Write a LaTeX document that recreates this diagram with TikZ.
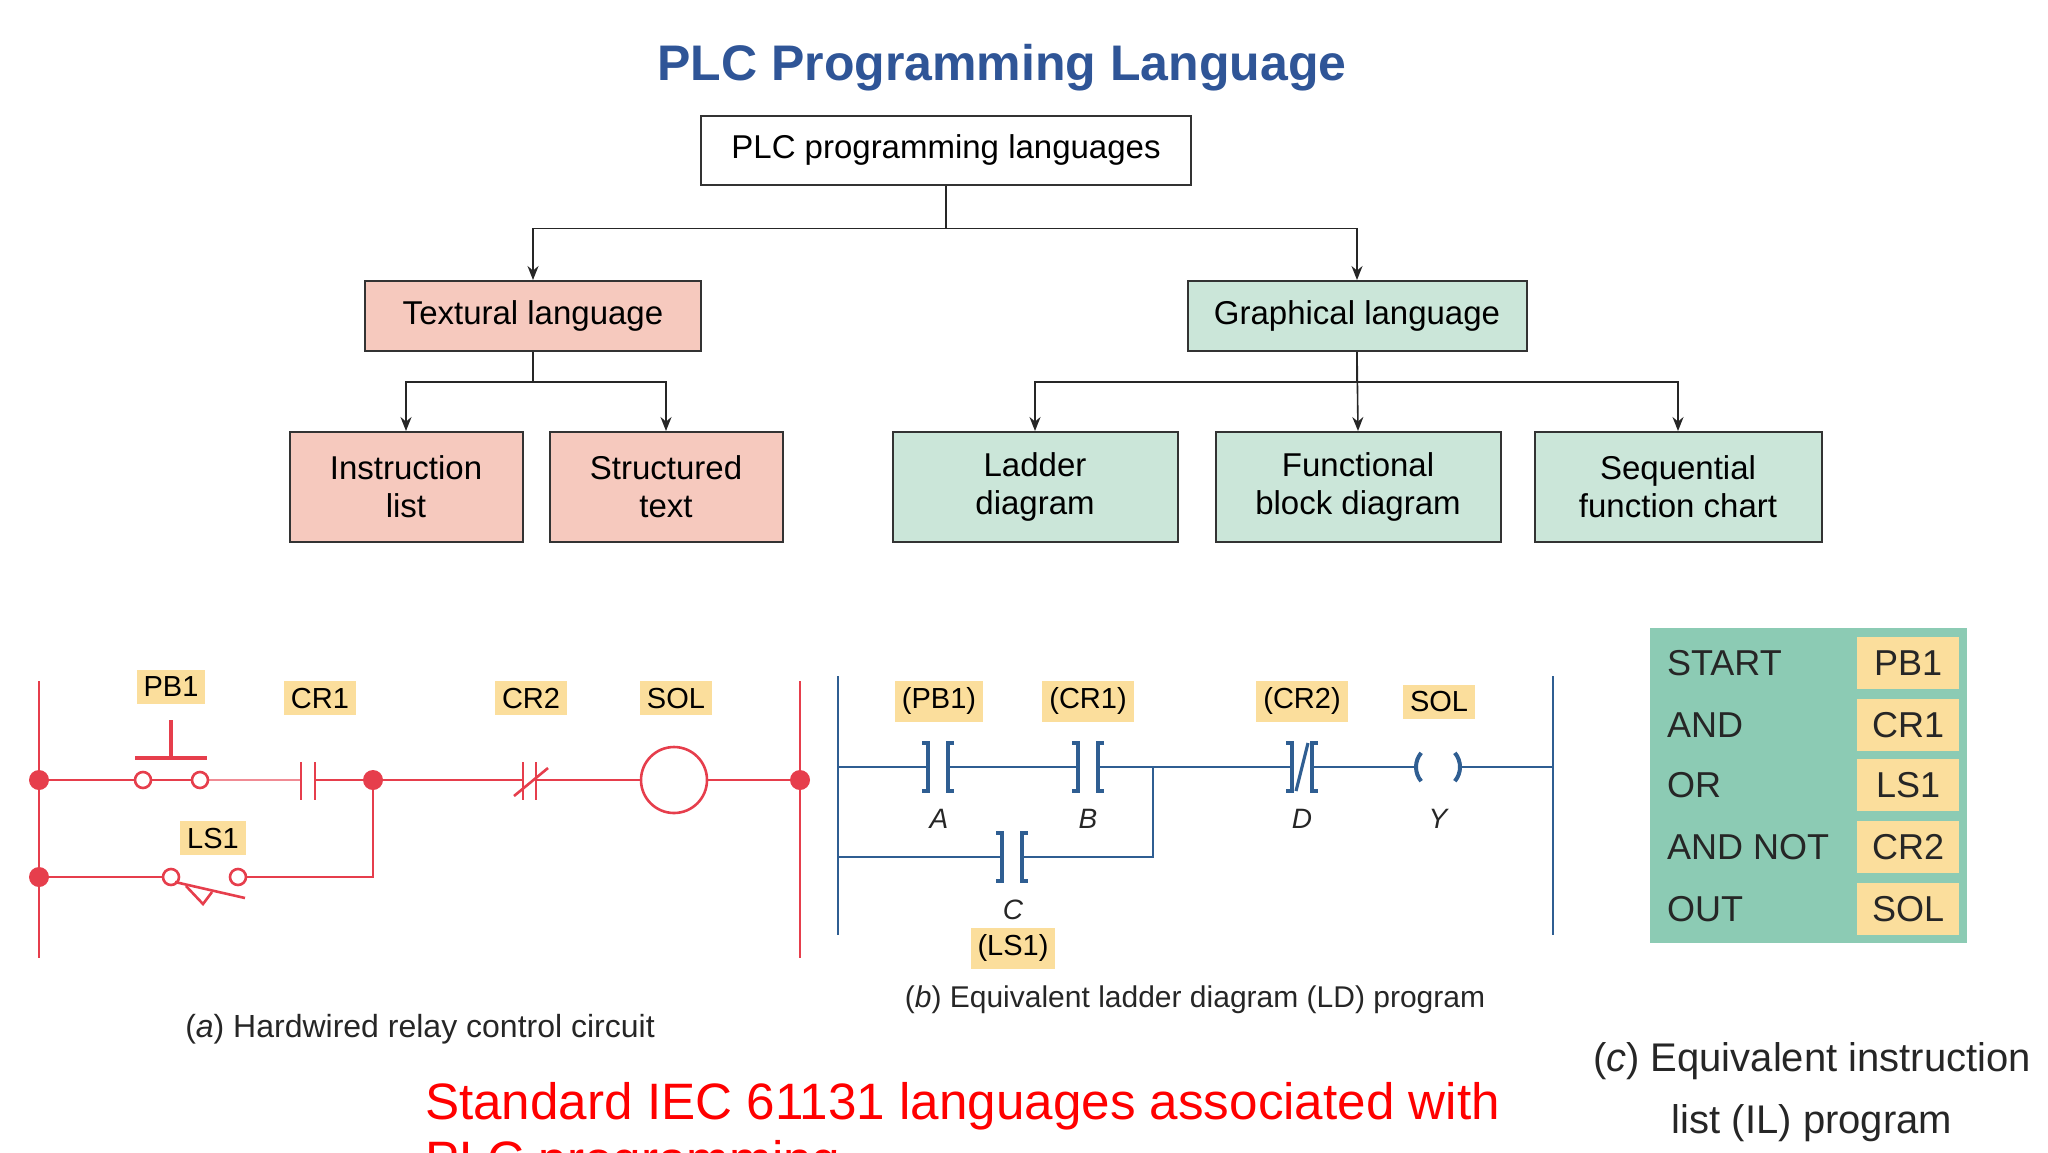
\documentclass[tikz,border=0pt]{standalone}
\usepackage{fontspec}
\setmainfont{Liberation Sans}
\usetikzlibrary{arrows.meta}
\definecolor{ttl}{HTML}{2F5597}
\definecolor{pinkf}{HTML}{F6C9BE}
\definecolor{greenf}{HTML}{CBE6D9}
\definecolor{lbl}{HTML}{FBDE9C}
\definecolor{relay}{HTML}{E63E4C}
\definecolor{ladder}{HTML}{2F5E92}
\definecolor{ilbox}{HTML}{8CCBB4}
\begin{document}
\begin{tikzpicture}[x=0.5pt,y=-0.5pt,
  box/.style={draw=black!80, line width=1pt, align=center, font=\fontsize{16.5}{19}\selectfont, inner sep=0pt},
  pbox/.style={box, fill=pinkf},
  gbox/.style={box, fill=greenf},
  arr/.style={-{Stealth[length=7pt,width=5.5pt]}, line width=0.8pt, black!85},
  tag/.style={fill=lbl, font=\fontsize{14.5}{17}\selectfont, inner sep=3.5pt},
  rw/.style={relay, line width=1.3pt},
  lw/.style={ladder, line width=1.1pt},
  let/.style={font=\fontsize{14}{16}\selectfont\itshape, black!85}]
\useasboundingbox (0,0) rectangle (2048,1152);

% title
\node[font=\fontsize{25}{30}\selectfont\bfseries, text=ttl] (title) at (1002,68) {PLC Programming Language};

% tree
\node[box, minimum width=245pt, minimum height=34.5pt] (top) at (946,150) {PLC programming languages};
\node[pbox, minimum width=168pt, minimum height=35pt] (tex) at (533,316) {Textural language};
\node[gbox, minimum width=169.5pt, minimum height=35pt] (gra) at (1357,316) {Graphical language};
\node[pbox, minimum width=116.5pt, minimum height=55pt] (il) at (406,487) {Instruction\\list};
\node[pbox, minimum width=116.5pt, minimum height=55pt] (st) at (666,487) {Structured\\text};
\node[gbox, minimum width=142.5pt, minimum height=55pt] (ld) at (1035,487) {Ladder\\diagram};
\node[gbox, minimum width=142.5pt, minimum height=55pt] (fb) at (1358,487) {Functional\\block diagram};
\node[gbox, minimum width=143.5pt, minimum height=55pt] (sf) at (1678,487) {Sequential\\function chart};

\draw[arr] (top.south) -- ++(0,43) -| (tex.north);
\draw[arr] (top.south) -- ++(0,43) -| (gra.north);
\draw[arr] (tex.south) -- ++(0,30) -| (il.north);
\draw[arr] (tex.south) -- ++(0,30) -| (st.north);
\draw[arr] (gra.south) -- ++(0,30) -| (ld.north);
\draw[arr] (gra.south) -- (fb.north);
\draw[arr] (gra.south) -- ++(0,30) -| (sf.north);

% (a) hardwired relay circuit
\draw[rw] (39,681) -- (39,958);
\draw[rw] (800,681) -- (800,958);
\draw[rw] (39,780) -- (135,780);
\draw[rw] (151,780) -- (192,780);
\draw[relay!60, line width=1.3pt] (208,780) -- (301,780);
\draw[rw] (315,780) -- (523,780);
\draw[rw] (536,780) -- (641,780);
\draw[rw] (707,780) -- (800,780);
\draw[rw] (373,780) -- (373,877) -- (246,877);
\draw[rw] (39,877) -- (163,877);
\foreach \p in {(39,780),(800,780),(373,780),(39,877)} \fill[relay] \p circle (5pt);
% PB1
\draw[rw] (143,780) circle (4pt) (200,780) circle (4pt);
\draw[rw, line width=1.8pt] (135,758) -- (207,758);
\draw[rw, line width=1.8pt] (171,758) -- (171,720);
% CR1 contact
\draw[rw] (301,762) -- (301,800) (315,762) -- (315,800);
% CR2 NC contact
\draw[rw] (523,762) -- (523,800) (536,762) -- (536,800);
\draw[rw] (514,796) -- (548,768);
% SOL coil
\draw[rw] (674,780) circle (16.5pt);
% LS1
\draw[rw] (171,877) circle (4pt) (238,877) circle (4pt);
\draw[rw] (175,882) -- (245,898);
\draw[rw] (186,886) -- (203,904) -- (212,892);
% tags
\node[tag] (pb1) at (171,687) {PB1};
\node[tag] (cr1) at (320,698) {CR1};
\node[tag] (cr2) at (531,698) {CR2};
\node[tag] (sol) at (676,698) {SOL};
\node[tag] (ls1) at (213,838) {LS1};
\node[font=\fontsize{16}{19}\selectfont, black!85] (capa) at (420,1029) {(\textit{a}) Hardwired relay control circuit};

% (b) ladder diagram
\draw[lw] (838,676) -- (838,935);
\draw[lw] (1553,676) -- (1553,935);
\draw[lw] (838,767) -- (928,767) (948,767) -- (1078,767) (1098,767) -- (1292,767)
  (1312,767) -- (1416,767) (1460,767) -- (1553,767);
\draw[lw] (1153,767) -- (1153,857) -- (1022,857);
\draw[lw] (838,857) -- (1002,857);
\foreach \cx/\cy in {938/767,1088/767,1012/857,1302/767}{
  \draw[ladder, line width=2pt] (\cx-16,\cy-24) -- (\cx-10,\cy-24) -- (\cx-10,\cy+24) -- (\cx-16,\cy+24);
  \draw[ladder, line width=2pt] (\cx+16,\cy-24) -- (\cx+10,\cy-24) -- (\cx+10,\cy+24) -- (\cx+16,\cy+24);
}
\draw[ladder, line width=1.6pt] (1296,791) -- (1308,743);
\draw[ladder, line width=2pt] (1438,767) ++(140:22) arc (140:220:22);
\draw[ladder, line width=2pt] (1438,767) ++(-40:22) arc (-40:40:22);
\node[tag] (pb1b) at (939,701) {(PB1)};
\node[tag] (cr1b) at (1088,701) {(CR1)};
\node[tag] (cr2b) at (1302,701) {(CR2)};
\node[tag] (solb) at (1439,702) {SOL};
\node[tag] (ls1b) at (1013,948) {(LS1)};
\node[let] (la) at (939,819) {A};
\node[let] (lb) at (1088,819) {B};
\node[let] (ld2) at (1302,819) {D};
\node[let] (ly) at (1438,819) {Y};
\node[let] (lc) at (1013,910) {C};
\node[font=\fontsize{15}{18}\selectfont, black!85] (capb) at (1195,1000) {(\textit{b}) Equivalent ladder diagram (LD) program};

% (c) instruction list
\fill[ilbox] (1650,628) rectangle (1967,943);
\foreach \y/\op/\ad in {663/START/PB1,725/AND/CR1,785/OR/LS1,847/AND NOT/CR2,909/OUT/SOL}{
  \fill[lbl] (1857,\y-26) rectangle (1959,\y+26);
  \node[anchor=west, font=\fontsize{18}{21}\selectfont, black!85] at (1660,\y) {\op};
  \node[font=\fontsize{18}{21}\selectfont, black!85] at (1908,\y) {\ad};
}
\node[font=\fontsize{20}{31}\selectfont, black!85, align=center] (capc) at (1812,1092) {(\textit{c}) Equivalent instruction\\list (IL) program};

% red note
\node[anchor=north west, font=\fontsize{25.6}{29}\selectfont, text=red, align=left] (note) at (418,1075) {Standard IEC 61131 languages associated with\\PLC programming};
\end{tikzpicture}
\end{document}
